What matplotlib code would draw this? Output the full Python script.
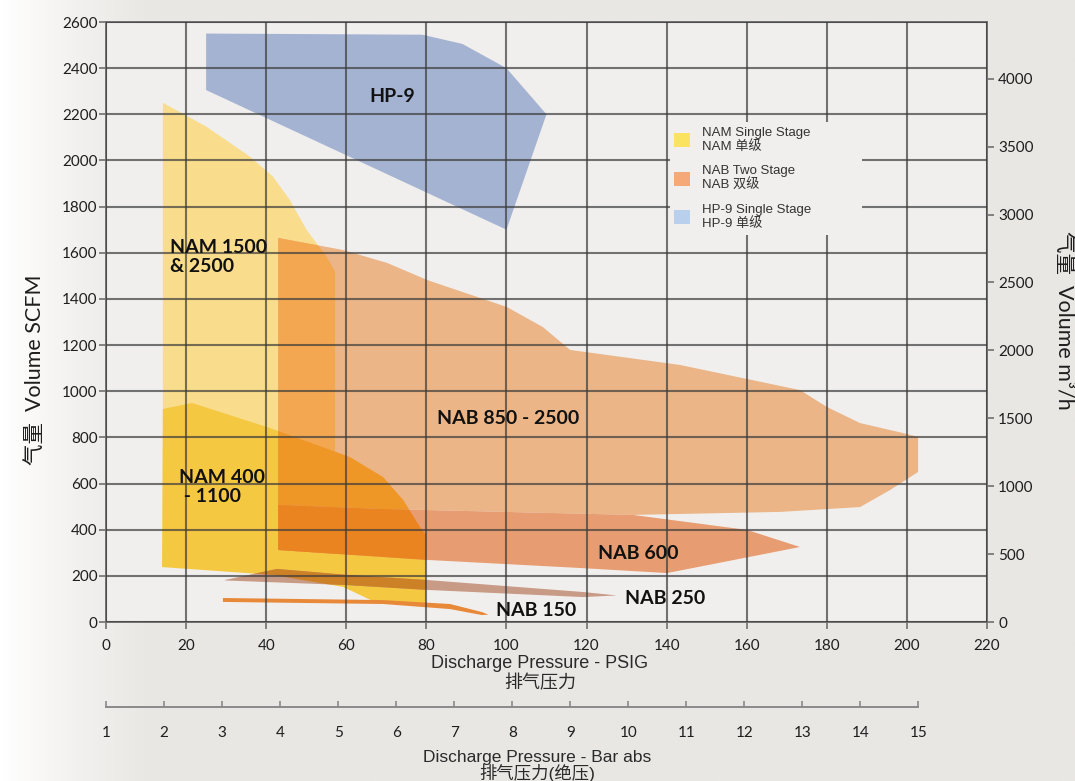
import numpy as np
import matplotlib
matplotlib.use('Agg')
import matplotlib.pyplot as plt
from matplotlib.patches import Patch
from matplotlib.colors import LinearSegmentedColormap, to_rgb

plt.rcParams['font.family'] = ['Lato', 'Noto Sans CJK SC', 'DejaVu Sans']

# Envelopes (x = discharge pressure PSIG, y = volume SCFM)
hp9_psig = [25, 79, 89, 100, 110, 100, 25]
hp9_scfm = [2550, 2545, 2505, 2400, 2200, 1700, 2305]

nam1500_psig = [14.2, 25.1, 36.0, 41.7, 45.9, 50.1, 55.1, 57.2, 57.2, 14.2]
nam1500_scfm = [2250, 2146, 2016, 1930, 1829, 1699, 1583, 1518, 269, 269]

nam400_psig = [14.2, 21.5, 40.2, 60.9, 69.2, 74.2, 78.4, 79.9, 79.9, 67.7, 59.2, 41.7, 14.0]
nam400_scfm = [923, 949, 845, 715, 628, 529, 412, 377, 74, 82, 152, 204, 238]

nab850_psig = [43.0, 59.2, 70.2, 80.2, 100.1, 109.1, 115.9, 143.3, 173.3, 180.0,
               188.3, 199.0, 202.8, 202.8, 195.8, 188.3, 168.3, 131.6, 68.4, 43.0]
nab850_scfm = [1664, 1612, 1556, 1482, 1365, 1278, 1179, 1114, 1005, 932,
               862, 819, 802, 650, 572, 498, 477, 464, 490, 507]

nab600_psig = [43.0, 68.4, 131.6, 160.1, 173.3, 140.1, 118.4, 80.2, 43.0]
nab600_scfm = [507, 490, 464, 399, 325, 212, 234, 269, 312]

nab250_psig = [29.7, 42.7, 60.2, 80.2, 119.1, 127.6, 119.1, 80.2, 60.2, 29.7]
nab250_scfm = [182, 230, 204, 182, 130, 115, 108, 139, 160, 180]

nab150_psig = [29.2, 69.2, 85.9, 93.9, 95.5, 93.9, 85.9, 69.2, 29.2]
nab150_scfm = [104, 95, 78, 43, 32, 30, 56, 78, 87]

x_ticks = list(range(0, 221, 20))
y_ticks = list(range(0, 2601, 200))
m3h_ticks = list(range(0, 4001, 500))
bar_ticks = list(range(1, 16))

legend_labels = ["NAM Single Stage\nNAM 单级", "NAB Two Stage\nNAB 双级", "HP-9 Single Stage\nHP-9 单级"]
legend_colors = ['#fbe25f', '#f5a878', '#b8d0ec']

BG = '#f1efed'
NAM1500_C = '#f9dd8c'
NAM400_C = '#f5c842'
NAB850_C = '#f9c191'
NAB600_C = '#f4a87a'
NAB250_C = '#d4a591'


def scfm_to_m3h(v):
    return np.asarray(v) * 1.699


def m3h_to_scfm(v):
    return np.asarray(v) / 1.699


def psig_to_bar(p):
    return np.asarray(p) / 14.5038 + 1.01325


def mult(a, b):
    # "multiply" blend of two colours, like the print original
    return tuple(x * y for x, y in zip(to_rgb(a), to_rgb(b)))


W, H = 1075, 781
fig = plt.figure(figsize=(W / 100, H / 100), dpi=100)
fig.patch.set_facecolor('#e9e7e4')

# soft white fade on the left edge
bg = fig.add_axes([0, 0, 1, 1], zorder=-10)
bg.axis('off')
cmap = LinearSegmentedColormap.from_list('fade', ['#ffffff', '#f3f1ef', '#e9e7e4'])
grad = np.clip(np.linspace(0, 1, 400) / 0.14, 0, 1)[None, :]
bg.imshow(grad, aspect='auto', cmap=cmap, extent=[0, 1, 0, 1], vmin=0, vmax=1)

ax = fig.add_axes([106 / W, 1 - 622 / H, 881 / W, 600 / H])
ax.set_facecolor(BG)

p1500 = ax.fill(nam1500_psig, nam1500_scfm, color=NAM1500_C, lw=0, zorder=1.0)[0]
p400 = ax.fill(nam400_psig, nam400_scfm, color=NAM400_C, lw=0, zorder=1.05)[0]

z = 1.1
for xs, ys, c in [(nab850_psig, nab850_scfm, NAB850_C),
                  (nab600_psig, nab600_scfm, NAB600_C),
                  (nab250_psig, nab250_scfm, NAB250_C)]:
    ax.fill(xs, ys, color=mult(c, BG), lw=0, zorder=z)
    for base, base_c in [(p1500, NAM1500_C), (p400, NAM400_C)]:
        z += 0.01
        q = ax.fill(xs, ys, color=mult(c, base_c), lw=0, zorder=z)[0]
        q.set_clip_path(base)
    z += 0.01

ax.fill(nab150_psig, nab150_scfm, color='#e8893a', lw=0, zorder=1.5)
ax.fill(hp9_psig, hp9_scfm, color='#a5b3d2', lw=0, zorder=1.6)

ax.set_xlim(0, 220)
ax.set_ylim(0, 2600)
ax.set_xticks(x_ticks)
ax.set_yticks(y_ticks)
ax.set_axisbelow(False)
ax.grid(True, color='#3c3c3c', alpha=0.7, lw=1.5)
for s in ax.spines.values():
    s.set_color('#707070')
    s.set_linewidth(1.4)
ax.tick_params(axis='both', direction='out', length=5, width=1.2, color='#707070',
               labelsize=11, labelcolor='#1e1e1e')
ax.tick_params(axis='y', pad=1)
ax.tick_params(axis='x', pad=7)

sec = ax.secondary_yaxis('right', functions=(scfm_to_m3h, m3h_to_scfm))
sec.set_yticks(m3h_ticks)
sec.spines['right'].set_color('#707070')
sec.spines['right'].set_linewidth(1.4)
sec.tick_params(direction='out', length=5, width=1.2, color='#707070', pad=3,
                labelsize=11, labelcolor='#1e1e1e')

lab = dict(fontsize=14, fontweight='bold', color='#111111', zorder=4)
ax.text(71.4, 2279, "HP-9", ha='center', va='center', **lab)
ax.text(16, 1582, "NAM 1500\n& 2500", ha='left', va='center', linespacing=1.2, **lab)
ax.text(18.2, 585, "NAM 400\n - 1100", ha='left', va='center', linespacing=1.2, **lab)
ax.text(100.4, 884, "NAB 850 - 2500", ha='center', va='center', **lab)
ax.text(132.8, 297, "NAB 600", ha='center', va='center', **lab)
ax.text(139.6, 102, "NAB 250", ha='center', va='center', **lab)
ax.text(107.4, 50, "NAB 150", ha='center', va='center', **lab)

handles = [Patch(facecolor=c, edgecolor='none') for c in legend_colors]
leg = ax.legend(handles, legend_labels, loc='upper left',
                bbox_to_anchor=(0.640, 0.628, 0.218, 0.205), mode='expand',
                prop={'family': ['Liberation Sans', 'Noto Sans CJK SC'], 'size': 9.5},
                labelcolor='#333333', handlelength=1.2, handleheight=1.25,
                handletextpad=0.9, labelspacing=0.95, borderpad=0.35, borderaxespad=0,
                frameon=True, fancybox=False, facecolor=BG, edgecolor='none',
                framealpha=1)
for t in leg.get_texts():
    t.set_linespacing(1.12)

label_font = ['Liberation Sans', 'Noto Sans CJK SC']
fig.text(540 / W, 1 - 655 / H, "Discharge Pressure - PSIG\n排气压力", family=label_font,
         fontsize=13, color='#2a2a2a', ha='center', va='top', linespacing=1.22)

# second pressure scale in bar abs
bar_ax = fig.add_axes([106 / W, 1 - 707 / H, 881 / W, 0.001])
bar_ax.set_facecolor('none')
bar_ax.set_xlim(psig_to_bar(0), psig_to_bar(220))
bar_ax.set_yticks([])
for k in ['top', 'left', 'right']:
    bar_ax.spines[k].set_visible(False)
bar_ax.spines['bottom'].set_bounds(1, 15)
bar_ax.spines['bottom'].set_color('#8a8a8a')
bar_ax.spines['bottom'].set_linewidth(1.4)
bar_ax.set_xticks(bar_ticks)
bar_ax.tick_params(axis='x', direction='in', length=4, width=1.2, color='#8a8a8a',
                   pad=14, labelsize=11, labelcolor='#1e1e1e')
fig.text(537 / W, 1 - 750 / H, "Discharge Pressure - Bar abs\n排气压力(绝压)", family=label_font,
         fontsize=12.5, color='#2a2a2a', ha='center', va='top', linespacing=0.92)

fig.text(35 / W, 1 - 370 / H, "气量  Volume SCFM", rotation=90, ha='center', va='center',
         fontsize=15.5, color='#1e1e1e')
fig.text(1064 / W, 1 - 320 / H, "气量  Volume m³/h", rotation=270, ha='center', va='center',
         fontsize=15.5, color='#1e1e1e')

fig.savefig('out.png', dpi=100, facecolor=fig.get_facecolor())
